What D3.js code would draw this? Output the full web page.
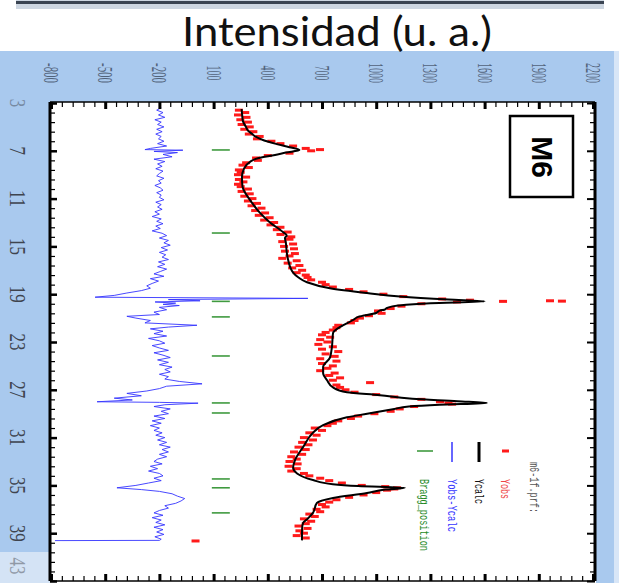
<!DOCTYPE html>
<html>
<head>
<meta charset="utf-8">
<script src="https://cdn.jsdelivr.net/npm/d3@7"></script>
<style>
  body { margin: 0; background: #fff; }
  svg { display: block; }
</style>
</head>
<body>
<div id="chart"></div>
<script>
// 2theta tick labels (left, rotated) and intensity tick labels (top)
const twoThetaTicks = [3, 7, 11, 15, 19, 23, 27, 31, 35, 39, 43];
const intensityTicks = [-800, -500, -200, 100, 400, 700, 1000, 1300, 1600, 1900, 2200];

const braggPositions = [6.93, 13.88, 19.6, 20.9, 24.17, 28.1, 28.94, 34.46, 35.2, 37.3];

// [2theta, intensity]
const calcPattern = [
  [3.5, 255], [4.0, 258], [4.5, 262], [5.0, 279], [5.3, 290], [5.6, 314], [5.8, 330],
  [6.1, 373], [6.4, 440], [6.7, 520], [6.93, 575], [7.15, 500], [7.35, 440], [7.6, 350],
  [7.94, 300], [8.5, 268], [9.2, 257], [10.0, 260], [10.6, 278], [11.1, 301], [12.2, 357],
  [13.0, 412], [13.8, 484], [14.1, 505], [14.3, 495], [14.7, 500], [15.5, 505], [16.1, 512],
  [17.2, 540], [17.6, 570], [18.0, 617], [18.5, 744], [18.9, 949], [19.2, 1132], [19.45, 1400],
  [19.6, 1600], [19.75, 1300], [19.95, 1121], [20.15, 1060], [20.3, 1045], [20.35, 1021],
  [20.57, 1000], [20.9, 900], [21.16, 872], [21.74, 800], [22.25, 761], [23.4, 755],
  [24.3, 744], [25.1, 706], [25.6, 706], [26.2, 728], [26.8, 761], [27.2, 838], [27.45, 1021],
  [27.75, 1200], [27.95, 1450], [28.1, 1613], [28.25, 1350], [28.4, 1180], [28.6, 1100],
  [29.0, 950], [29.3, 838], [29.95, 706], [30.6, 650], [31.8, 595], [32.9, 550], [33.5, 540],
  [34.0, 562], [34.55, 650], [34.9, 760], [35.05, 900], [35.2, 1159], [35.35, 1050],
  [35.64, 949], [36.05, 761], [36.47, 672], [37.3, 650], [37.8, 620], [38.15, 595],
  [38.6, 590], [39.6, 589]
];

const obsPattern = [
  [3.6, 240], [3.8, 275], [4.0, 235], [4.2, 282], [4.4, 248], [4.6, 290], [4.8, 255],
  [5.0, 300], [5.2, 270], [5.4, 320], [5.6, 295], [5.8, 355], [6.0, 340], [6.2, 420],
  [6.4, 470], [6.6, 540], [6.8, 610], [6.9, 689], [7.0, 640], [7.2, 520], [7.4, 400],
  [7.6, 335], [7.8, 345], [8.0, 280], [8.2, 260], [8.4, 295], [8.6, 240], [8.8, 250],
  [9.0, 235], [9.2, 280], [9.4, 240], [9.6, 265], [9.8, 235], [10.0, 250], [10.2, 290],
  [10.4, 255], [10.6, 300], [10.8, 270], [11.0, 315], [11.2, 290], [11.4, 340], [11.6, 310],
  [11.8, 365], [12.0, 330], [12.2, 385], [12.4, 350], [12.6, 410], [12.8, 380], [13.0, 435],
  [13.2, 415], [13.4, 470], [13.6, 450], [13.8, 510], [14.0, 470], [14.2, 530], [14.4, 520],
  [14.6, 480], [14.8, 540], [15.0, 490], [15.2, 545], [15.4, 495], [15.6, 550], [15.8, 520],
  [16.0, 480], [16.2, 560], [16.4, 510], [16.6, 575], [16.8, 535], [17.0, 590], [17.2, 560],
  [17.4, 610], [17.6, 620], [17.8, 640], [18.0, 700], [18.2, 720], [18.4, 760], [18.6, 850],
  [18.8, 930], [19.0, 1040], [19.2, 1150], [19.4, 1365], [19.5, 1519], [19.55, 1962],
  [19.58, 2028], [19.6, 1702], [19.65, 1447], [19.8, 1250], [20.0, 1140], [20.2, 1080],
  [20.4, 1010], [20.6, 1030], [20.8, 960], [21.0, 910], [21.2, 880], [21.4, 860], [21.6, 790],
  [21.8, 780], [22.0, 760], [22.2, 720], [22.4, 700], [22.6, 745], [22.8, 690], [23.0, 730],
  [23.2, 680], [23.4, 760], [23.6, 700], [23.8, 790], [24.0, 720], [24.2, 770], [24.4, 690],
  [24.6, 780], [24.8, 700], [25.0, 760], [25.2, 730], [25.4, 690], [25.6, 770], [25.8, 740],
  [26.0, 800], [26.2, 760], [26.4, 966], [26.6, 780], [26.8, 800], [27.0, 830], [27.2, 880],
  [27.4, 1000], [27.6, 1100], [27.8, 1250], [28.0, 1353], [28.1, 1400], [28.2, 1420],
  [28.4, 1210], [28.6, 1130], [28.8, 1080], [29.0, 990], [29.2, 900], [29.4, 860], [29.6, 790],
  [29.8, 760], [30.0, 730], [30.2, 660], [30.4, 700], [30.6, 630], [30.8, 670], [31.0, 600],
  [31.2, 650], [31.4, 590], [31.6, 625], [31.8, 570], [32.0, 610], [32.2, 545], [32.4, 590],
  [32.6, 530], [32.8, 560], [33.0, 520], [33.2, 565], [33.4, 515], [33.6, 560], [33.8, 530],
  [34.0, 600], [34.2, 630], [34.4, 690], [34.6, 740], [34.8, 810], [35.0, 920], [35.1, 1050],
  [35.2, 1115], [35.3, 1100], [35.4, 1060], [35.6, 1000], [35.8, 930], [36.0, 850], [36.2, 780],
  [36.4, 740], [36.6, 700], [36.8, 720], [37.0, 670], [37.2, 690], [37.4, 630], [37.6, 660],
  [37.8, 600], [38.0, 640], [38.2, 610], [38.4, 570], [38.6, 620], [38.8, 575], [39.0, 600],
  [39.2, 560], [39.4, 610], [39.65, 0]
];

const diffPattern = [
  [3.4, -190], [3.6, -215], [3.8, -180], [4.0, -205], [4.2, -170], [4.4, -225], [4.6, -190],
  [4.8, -210], [5.0, -175], [5.2, -215], [5.4, -185], [5.6, -220], [5.8, -190], [6.0, -205],
  [6.2, -175], [6.4, -210], [6.6, -160], [6.8, -250], [6.9, -280], [6.95, -70], [7.05, -230],
  [7.15, -100], [7.3, -180], [7.5, -130], [7.7, -230], [7.9, -170], [8.1, -210], [8.3, -185],
  [8.5, -220], [8.7, -180], [8.9, -200], [9.1, -215], [9.3, -175], [9.5, -205], [9.7, -190],
  [9.9, -225], [10.1, -195], [10.3, -180], [10.5, -215], [10.7, -190], [10.9, -200], [11.1, -175],
  [11.3, -220], [11.5, -190], [11.7, -210], [11.9, -185], [12.1, -225], [12.3, -200], [12.5, -240],
  [12.7, -190], [12.9, -215], [13.1, -180], [13.3, -220], [13.5, -195], [13.7, -240], [13.9, -185],
  [14.1, -160], [14.3, -200], [14.5, -150], [14.7, -175], [14.9, -140], [15.1, -190], [15.3, -155],
  [15.5, -200], [15.7, -165], [15.9, -185], [16.1, -150], [16.3, -205], [16.5, -170], [16.7, -210],
  [16.9, -160], [17.1, -195], [17.3, -230], [17.5, -175], [17.7, -250], [17.9, -205], [18.1, -240],
  [18.3, -270], [18.5, -250], [18.7, -300], [18.9, -380], [19.1, -450], [19.25, -556], [19.35, 622],
  [19.45, -150], [19.55, 25], [19.65, -224], [19.75, -110], [19.85, -180], [19.95, -90], [20.1, -200],
  [20.3, -160], [20.5, -230], [20.7, -200], [20.85, -380], [21.0, -330], [21.2, -250], [21.4, -280],
  [21.6, 8], [21.75, -150], [21.9, -250], [22.1, -180], [22.3, -230], [22.5, -160], [22.7, -260],
  [22.9, -200], [23.1, -170], [23.3, -240], [23.5, -200], [23.7, -150], [23.9, -230], [24.1, -180],
  [24.3, -140], [24.5, -210], [24.7, -150], [24.9, -200], [25.1, -130], [25.3, -170], [25.5, -140],
  [25.7, -200], [25.9, -150], [26.1, -170], [26.3, -90], [26.5, 36], [26.7, -160], [26.9, -200],
  [27.1, -270], [27.3, -380], [27.5, -300], [27.7, -450], [27.85, -350], [28.0, -545], [28.05, -200],
  [28.12, 14], [28.25, -170], [28.4, -230], [28.6, -140], [28.8, -190], [29.0, -150], [29.2, -230],
  [29.4, -170], [29.6, -240], [29.8, -190], [30.0, -250], [30.2, -200], [30.4, -230], [30.6, -185],
  [30.8, -220], [31.0, -170], [31.2, -210], [31.4, -160], [31.6, -200], [31.8, -140], [32.0, -185],
  [32.2, -150], [32.4, -200], [32.6, -160], [32.8, -210], [33.0, -230], [33.2, -185], [33.4, -250],
  [33.6, -210], [33.8, -260], [34.0, -200], [34.2, -180], [34.4, -230], [34.6, -190], [34.8, -260],
  [35.0, -330], [35.2, -435], [35.35, -300], [35.5, -200], [35.7, -130], [35.9, -100], [36.1, -60],
  [36.3, -80], [36.5, -110], [36.7, -170], [36.9, -150], [37.1, -200], [37.3, -230], [37.5, -180],
  [37.7, -240], [37.9, -190], [38.1, -220], [38.3, -170], [38.5, -230], [38.7, -180], [38.9, -215],
  [39.1, -175], [39.3, -225], [39.5, -190], [39.6, -200], [39.62, -778]
];

const legendLabels = ['Yobs', 'Ycalc', 'Yobs-Ycalc', 'Bragg_position'];
const fileName = 'm6-1f.prf:';
const sampleName = 'M6';
const titleText = 'Intensidad (u. a.)';
const braggLevel = 140;

const width = 619;
const height = 583;
const frame = { left: 50, right: 595, top: 102, bottom: 581 };

const svg = d3
  .select('#chart')
  .append('svg')
  .attr('width', width)
  .attr('height', height);

const x = d3.scaleLinear().domain([-800, 2200]).range([51, 593]);
const y = d3.scaleLinear().domain([3, 43]).range([103, 581]);

// window chrome around the plot (blue bands)
svg.append('rect').attr('x', 16).attr('y', 0).attr('width', 588).attr('height', 9).attr('fill', '#cdd6e1');
svg.append('rect').attr('x', 16).attr('y', 1).attr('width', 588).attr('height', 3).attr('fill', '#3a4452');
svg.append('rect').attr('x', 2).attr('y', 51).attr('width', 612).attr('height', 51).attr('fill', '#a9c9ee');
svg.append('rect').attr('x', 0).attr('y', 51).attr('width', 50).attr('height', 501).attr('fill', '#a9c9ee');
svg.append('rect').attr('x', 0).attr('y', 552).attr('width', 50).attr('height', 31).attr('fill', '#d4e3f5');
svg.append('rect').attr('x', 596).attr('y', 51).attr('width', 18).attr('height', 532).attr('fill', '#a9c9ee');
svg.append('rect').attr('x', 614).attr('y', 51).attr('width', 5).attr('height', 532).attr('fill', '#d8e6f7');

svg
  .append('text')
  .attr('x', 337)
  .attr('y', 46)
  .attr('text-anchor', 'middle')
  .attr('font-family', 'Lato, "Open Sans", sans-serif')
  .attr('font-size', 41)
  .attr('textLength', 310)
  .attr('lengthAdjust', 'spacingAndGlyphs')
  .attr('fill', '#111')
  .text(titleText);

// plot area
svg
  .append('rect')
  .attr('x', frame.left)
  .attr('y', frame.top)
  .attr('width', frame.right - frame.left)
  .attr('height', frame.bottom - frame.top)
  .attr('fill', '#fff');

svg
  .append('clipPath')
  .attr('id', 'plot-clip')
  .append('rect')
  .attr('x', frame.left + 1)
  .attr('y', frame.top + 1)
  .attr('width', frame.right - frame.left - 2)
  .attr('height', frame.bottom - frame.top - 2);

const plot = svg.append('g').attr('clip-path', 'url(#plot-clip)');

const diffLine = d3
  .line()
  .x((d) => x(d[1]))
  .y((d) => y(d[0]));

plot
  .append('path')
  .datum(diffPattern)
  .attr('d', diffLine)
  .attr('fill', 'none')
  .attr('stroke', '#3535ff')
  .attr('stroke-width', 1)
  .attr('opacity', 0.9);

plot
  .selectAll('.bragg')
  .data(braggPositions)
  .join('line')
  .classed('bragg', true)
  .attr('x1', x(braggLevel) - 9)
  .attr('x2', x(braggLevel) + 9)
  .attr('y1', (d) => y(d))
  .attr('y2', (d) => y(d))
  .attr('stroke', '#3f9a3f')
  .attr('stroke-width', 1.6);

plot
  .selectAll('.obs')
  .data(obsPattern)
  .join('rect')
  .classed('obs', true)
  .attr('x', (d) => x(d[1]) - 4)
  .attr('y', (d) => y(d[0]) - 1.5)
  .attr('width', 8)
  .attr('height', 3)
  .attr('fill', '#ff1a1a');

const calcLine = d3
  .line()
  .x((d) => x(d[1]))
  .y((d) => y(d[0]))
  .curve(d3.curveMonotoneY);

plot
  .append('path')
  .datum(calcPattern)
  .attr('d', calcLine)
  .attr('fill', 'none')
  .attr('stroke', '#000')
  .attr('stroke-width', 2);

// ticks, all pointing inside the frame
const minorTheta = d3.range(3, 43.01, 0.8);
const minorInt = d3.range(-800, 2200.1, 60);

function tickGroup(axis, transform, width) {
  const g = svg.append('g').attr('transform', transform).call(axis);
  g.select('.domain').remove();
  g.selectAll('.tick line').attr('stroke', '#000').attr('stroke-width', width);
  g.selectAll('.tick text').remove();
  return g;
}

tickGroup(d3.axisLeft(y).tickValues(minorTheta).tickSize(-5), `translate(${frame.left},0)`, 1.2);
tickGroup(d3.axisLeft(y).tickValues(twoThetaTicks).tickSize(-7), `translate(${frame.left},0)`, 2.5);
tickGroup(d3.axisRight(y).tickValues(minorTheta).tickSize(-5), `translate(${frame.right},0)`, 1.2);
tickGroup(d3.axisRight(y).tickValues(twoThetaTicks).tickSize(-8), `translate(${frame.right},0)`, 2);
tickGroup(d3.axisTop(x).tickValues(minorInt).tickSize(-5), `translate(0,${frame.top})`, 1.2);
tickGroup(d3.axisTop(x).tickValues(intensityTicks).tickSize(-7), `translate(0,${frame.top})`, 3);
tickGroup(d3.axisBottom(x).tickValues(minorInt).tickSize(-5), `translate(0,${frame.bottom})`, 1.2);
tickGroup(d3.axisBottom(x).tickValues(intensityTicks).tickSize(-7), `translate(0,${frame.bottom})`, 3);

// frame
svg.append('line').attr('x1', frame.left).attr('x2', frame.right).attr('y1', frame.top).attr('y2', frame.top)
  .attr('stroke', '#000').attr('stroke-width', 1.5);
svg.append('line').attr('x1', frame.left).attr('x2', frame.right).attr('y1', frame.bottom).attr('y2', frame.bottom)
  .attr('stroke', '#000').attr('stroke-width', 1.5);
svg.append('line').attr('x1', frame.left).attr('x2', frame.left).attr('y1', frame.top).attr('y2', frame.bottom)
  .attr('stroke', '#000').attr('stroke-width', 3);
svg.append('line').attr('x1', frame.right).attr('x2', frame.right).attr('y1', frame.top).attr('y2', frame.bottom)
  .attr('stroke', '#000').attr('stroke-width', 3);

// tick labels, rotated like the rest of the plot
svg
  .selectAll('.theta-label')
  .data(twoThetaTicks)
  .join('text')
  .classed('theta-label', true)
  .attr('transform', (d) => `translate(18,${Math.min(y(d), 566)}) rotate(90)`)
  .attr('text-anchor', 'middle')
  .attr('dominant-baseline', 'central')
  .attr('font-family', '"Liberation Serif", serif')
  .attr('font-size', 24)
  .attr('textLength', (d) => String(d).length * 8.5)
  .attr('lengthAdjust', 'spacingAndGlyphs')
  .attr('fill', '#2d2d33')
  .attr('opacity', (d) => (d === 3 || d === 43 ? 0.4 : 0.85))
  .text((d) => d);

svg
  .selectAll('.int-label')
  .data(intensityTicks)
  .join('text')
  .classed('int-label', true)
  .attr('transform', (d) => `translate(${x(d)},73) rotate(90)`)
  .attr('text-anchor', 'middle')
  .attr('dominant-baseline', 'central')
  .attr('font-family', '"Liberation Serif", serif')
  .attr('font-size', 20)
  .attr('textLength', (d) => String(d).length * 5)
  .attr('lengthAdjust', 'spacingAndGlyphs')
  .attr('fill', '#3d4a5e')
  .attr('opacity', 0.8)
  .text((d) => d);

// sample box
svg.append('rect').attr('x', 510).attr('y', 116).attr('width', 63).attr('height', 81)
  .attr('fill', '#fff').attr('stroke', '#000').attr('stroke-width', 2.5);
svg
  .append('text')
  .attr('transform', 'translate(542,157) rotate(90)')
  .attr('text-anchor', 'middle')
  .attr('dominant-baseline', 'central')
  .attr('font-family', '"Liberation Sans", Arial, sans-serif')
  .attr('font-weight', 'bold')
  .attr('font-size', 30)
  .text(sampleName);

// legend
const legend = svg.append('g');
const legendFont = '"Liberation Mono", monospace';

legend
  .append('text')
  .attr('transform', 'translate(533,462) rotate(90)')
  .attr('dominant-baseline', 'central')
  .attr('font-family', legendFont)
  .attr('font-size', 12)
  .attr('textLength', 51)
  .attr('lengthAdjust', 'spacingAndGlyphs')
  .attr('fill', '#555')
  .text(fileName);

const legendX = [504, 478, 451, 423];
const legendColors = ['#ee4444', '#111', '#3535ff', '#1f8a1f'];
const legendLens = [20, 25, 53, 72];

legend
  .selectAll('.leg-text')
  .data(legendLabels)
  .join('text')
  .classed('leg-text', true)
  .attr('transform', (d, i) => `translate(${legendX[i]},479) rotate(90)`)
  .attr('dominant-baseline', 'central')
  .attr('font-family', legendFont)
  .attr('font-size', 13)
  .attr('textLength', (d, i) => legendLens[i])
  .attr('lengthAdjust', 'spacingAndGlyphs')
  .attr('fill', (d, i) => legendColors[i])
  .text((d) => d);

legend.append('rect').attr('x', 502).attr('y', 449.5).attr('width', 7).attr('height', 3).attr('fill', '#ff1a1a');
legend.append('line').attr('x1', 479).attr('x2', 479).attr('y1', 442).attr('y2', 462)
  .attr('stroke', '#000').attr('stroke-width', 3);
legend.append('line').attr('x1', 452).attr('x2', 452).attr('y1', 442).attr('y2', 462)
  .attr('stroke', '#3535ff').attr('stroke-width', 1.5);
legend.append('line').attr('x1', 417).attr('x2', 433).attr('y1', 451).attr('y2', 451)
  .attr('stroke', '#3f9a3f').attr('stroke-width', 1.6);
</script>
</body>
</html>
